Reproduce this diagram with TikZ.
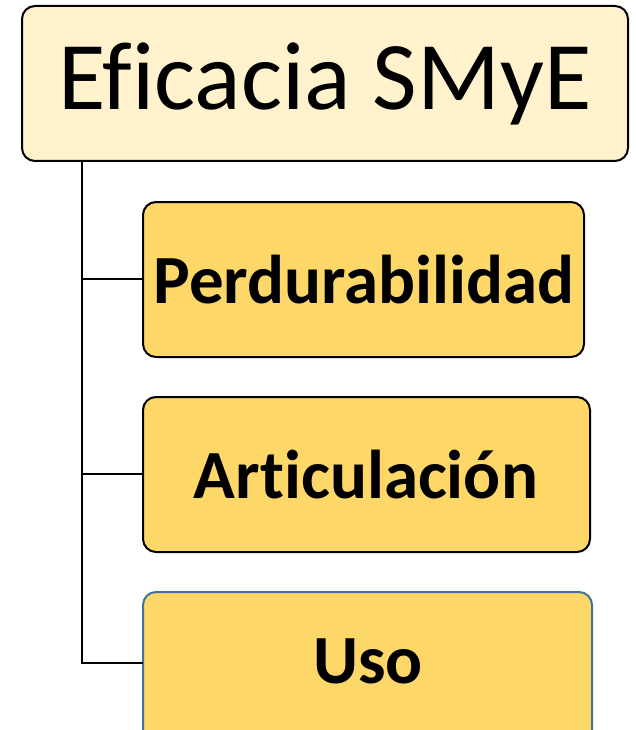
\documentclass[tikz,border=0pt]{standalone}
\usepackage{fontspec}
\setmainfont{Carlito}[Ligatures=CommonOff]
\definecolor{topfill}{HTML}{FFF2CC}
\definecolor{childfill}{HTML}{FDD868}
\definecolor{blueedge}{HTML}{41719C}
\begin{document}
\begin{tikzpicture}[x=1pt,y=-1pt,
  topbox/.style={draw=black, line width=2pt, fill=topfill, rounded corners=13pt},
  childbox/.style={draw=black, line width=2pt, fill=childfill, rounded corners=13pt},
  link/.style={draw=black, line width=2pt}]
\useasboundingbox (0,0) rectangle (635,730);
\clip (0,0) rectangle (635,730);
% top box
\draw[topbox] (22,6) rectangle (628,161);
\node (top) at (325,83.5) {\fontsize{97}{100}\selectfont Eficacia SMyE};
\coordinate (topanchor) at (82,161);
% child boxes
\draw[childbox] (143,202) rectangle (584,357);
\node (c1) at (364,279.5) {\fontsize{69}{72}\selectfont\bfseries Perdurabilidad};
\draw[childbox] (143,397) rectangle (590,552);
\node (c2) at (366,474.5) {\fontsize{69}{72}\selectfont\bfseries Articulación};
\draw[childbox, draw=blueedge] (143,592) rectangle (592,747);
\node (c3) at (368,661) {\fontsize{69}{72}\selectfont\bfseries Uso};
\coordinate (l1) at (143,279);
\coordinate (l2) at (143,474);
\coordinate (l3) at (143,663);
% connectors
\draw[link] (topanchor) -- (82,279) -- (l1);
\draw[link] (82,279) -- (82,474) -- (l2);
\draw[link] (82,474) |- (l3);
\end{tikzpicture}
\end{document}
